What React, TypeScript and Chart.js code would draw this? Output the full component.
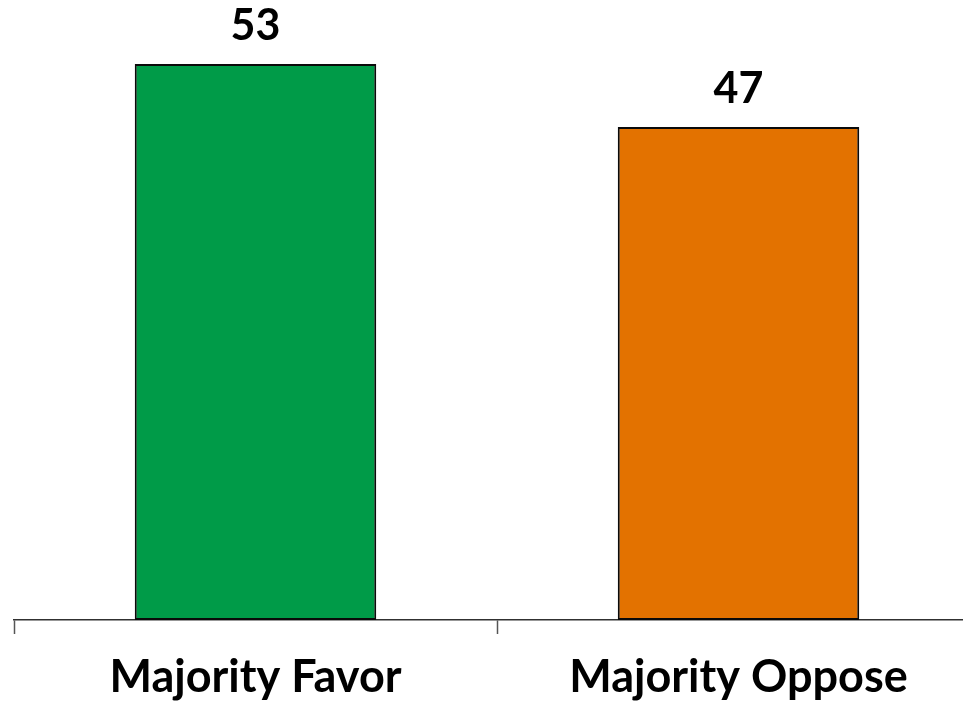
import React, { useEffect, useRef } from "react";
import { Chart, registerables } from "chart.js";

Chart.register(...registerables);

const categories = ["Majority Favor", "Majority Oppose"];
const values = [53, 47];
const barColors = ["#009b48", "#e37200"];

const FONT = "Lato, 'Open Sans', sans-serif";

const valueLabelPlugin = {
  id: "valueLabels",
  afterDatasetsDraw(chart: any) {
    const ctx = chart.ctx;
    const meta = chart.getDatasetMeta(0);
    ctx.save();
    ctx.font = `bold 43px ${FONT}`;
    ctx.fillStyle = "#000";
    ctx.textAlign = "center";
    ctx.textBaseline = "alphabetic";
    meta.data.forEach((bar: any, i: number) => {
      ctx.fillText(String(values[i]), bar.x, bar.y - 24);
    });
    ctx.restore();
  },
};

export default function App() {
  const ref = useRef<HTMLCanvasElement | null>(null);
  useEffect(() => {
    if (!ref.current) return;
    const chart = new Chart(ref.current, {
      type: "bar",
      data: {
        labels: categories,
        datasets: [
          {
            data: values,
            backgroundColor: barColors,
            borderColor: "#0a0a0a",
            borderWidth: 2,
            borderSkipped: false,
            barPercentage: 0.5,
            categoryPercentage: 1,
          },
        ],
      },
      options: {
        animation: false,
        responsive: false,
        maintainAspectRatio: false,
        layout: { padding: { left: 14, right: 20, top: 43, bottom: 0 } },
        plugins: { legend: { display: false }, tooltip: { enabled: false } },
        scales: {
          x: {
            grid: {
              display: true,
              drawOnChartArea: false,
              drawTicks: true,
              tickLength: 14,
              tickWidth: 1.5,
              color: "#555555",
              offset: true,
            },
            border: { display: true, color: "#303030", width: 1.5 },
            ticks: {
              color: "#000",
              font: { family: FONT, size: 45, weight: "bold" },
              padding: 16,
              maxRotation: 0,
              autoSkip: false,
            },
            afterFit: (scale: any) => {
              scale.height = 84;
            },
          },
          y: {
            display: false,
            min: 0,
            max: 55,
          },
        },
      },
      plugins: [valueLabelPlugin],
    });
    return () => chart.destroy();
  }, []);
  return (
    <div
      style={{
        position: "fixed",
        left: 0,
        top: 0,
        width: 963,
        height: 704,
        overflow: "hidden",
        background: "#fff",
      }}
    >
      <canvas ref={ref} width={1000} height={704} style={{ width: 1000, height: 704, display: "block" }} />
    </div>
  );
}
